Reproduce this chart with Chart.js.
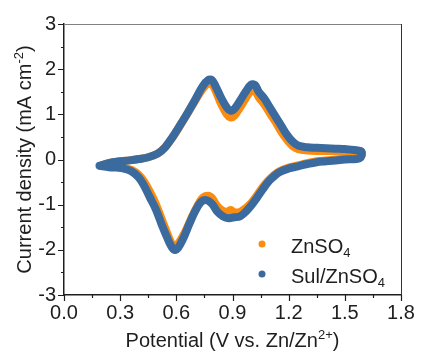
<!DOCTYPE html>
<html>
<head>
<meta charset="utf-8">
<script src="https://cdn.jsdelivr.net/npm/chart.js@4"></script>
<style>
  html, body { margin: 0; padding: 0; background: #fff; }
  canvas { display: block; }
</style>
</head>
<body>
<canvas id="chart" width="422" height="354"></canvas>
<script>
// ZnSO4, one CV loop: anodic sweep up, then cathodic sweep back
var znPotential = [0.20, 0.24, 0.30, 0.35, 0.40, 0.45, 0.50, 0.54, 0.58, 0.62, 0.66, 0.70, 0.74, 0.77, 0.79, 0.81, 0.84, 0.87, 0.89, 0.91, 0.94, 0.97, 1.00, 1.02, 1.04, 1.07, 1.10, 1.13, 1.16, 1.19, 1.22, 1.25, 1.30, 1.35, 1.40, 1.45, 1.50, 1.55, 1.59,
  1.58, 1.50, 1.40, 1.35, 1.30, 1.25, 1.20, 1.15, 1.12, 1.09, 1.06, 1.03, 1.00, 0.97, 0.94, 0.91, 0.89, 0.87, 0.85, 0.82, 0.79, 0.77, 0.74, 0.71, 0.68, 0.65, 0.62, 0.60, 0.585, 0.57, 0.55, 0.52, 0.49, 0.46, 0.43, 0.40, 0.36, 0.32, 0.28, 0.24, 0.20];
var znCurrent = [-0.13, -0.08, -0.04, -0.02, 0.01, 0.05, 0.13, 0.27, 0.49, 0.75, 1.02, 1.30, 1.56, 1.69, 1.68, 1.52, 1.22, 1.00, 0.93, 0.97, 1.15, 1.35, 1.52, 1.52, 1.38, 1.22, 1.02, 0.83, 0.62, 0.44, 0.30, 0.23, 0.20, 0.19, 0.19, 0.19, 0.18, 0.17, 0.14,
  0.05, 0.02, -0.02, -0.04, -0.08, -0.13, -0.18, -0.26, -0.35, -0.47, -0.62, -0.80, -0.96, -1.08, -1.16, -1.17, -1.12, -1.16, -1.14, -1.04, -0.85, -0.80, -0.85, -1.05, -1.30, -1.58, -1.80, -1.90, -1.92, -1.82, -1.62, -1.30, -0.98, -0.72, -0.50, -0.34, -0.23, -0.18, -0.16, -0.15, -0.13];

// Sul/ZnSO4
var sulPotential = [0.19, 0.22, 0.26, 0.30, 0.35, 0.40, 0.45, 0.50, 0.54, 0.58, 0.62, 0.66, 0.70, 0.74, 0.77, 0.79, 0.81, 0.84, 0.87, 0.89, 0.91, 0.94, 0.97, 1.00, 1.02, 1.04, 1.07, 1.10, 1.13, 1.16, 1.19, 1.22, 1.25, 1.30, 1.35, 1.40, 1.45, 1.50, 1.55, 1.59,
  1.58, 1.50, 1.40, 1.35, 1.30, 1.25, 1.20, 1.15, 1.12, 1.09, 1.06, 1.03, 1.00, 0.97, 0.94, 0.91, 0.88, 0.85, 0.82, 0.79, 0.76, 0.73, 0.70, 0.67, 0.64, 0.61, 0.59, 0.57, 0.55, 0.52, 0.49, 0.46, 0.43, 0.40, 0.36, 0.32, 0.28, 0.24, 0.19];
var sulCurrent = [-0.14, -0.10, -0.06, -0.04, -0.02, 0.01, 0.05, 0.13, 0.27, 0.50, 0.76, 1.03, 1.32, 1.62, 1.76, 1.76, 1.62, 1.36, 1.15, 1.08, 1.12, 1.30, 1.50, 1.66, 1.65, 1.50, 1.35, 1.15, 0.95, 0.75, 0.55, 0.40, 0.31, 0.27, 0.26, 0.25, 0.24, 0.23, 0.21, 0.17,
  0.03, 0.00, -0.04, -0.06, -0.10, -0.15, -0.20, -0.28, -0.38, -0.50, -0.67, -0.85, -1.02, -1.16, -1.26, -1.28, -1.30, -1.26, -1.16, -0.98, -0.90, -0.95, -1.15, -1.42, -1.72, -1.95, -2.00, -1.90, -1.72, -1.42, -1.10, -0.85, -0.60, -0.40, -0.26, -0.20, -0.18, -0.17, -0.14];

var xTicks = [0.0, 0.3, 0.6, 0.9, 1.2, 1.5, 1.8];
var yTicks = [-3, -2, -1, 0, 1, 2, 3];

var orange = '#fb8c10';
var blue = '#3b6b9e';
var ink = '#1e1e1e';
var fontFamily = '"Liberation Sans", Arial, sans-serif';

function toPoints(xs, ys) {
  var pts = [];
  for (var i = 0; i < xs.length; i++) pts.push({ x: xs[i], y: ys[i] });
  return pts;
}

// draw text made of pieces, some raised or lowered
function richWidth(ctx, segs) {
  var w = 0;
  segs.forEach(function (s) {
    ctx.font = (s.size || 20) + 'px ' + fontFamily;
    w += ctx.measureText(s.t).width;
  });
  return w;
}
function drawRich(ctx, segs, x, y) {
  var cx = x - richWidth(ctx, segs) / 2;
  segs.forEach(function (s) {
    ctx.font = (s.size || 20) + 'px ' + fontFamily;
    ctx.fillText(s.t, cx, y + (s.dy || 0));
    cx += ctx.measureText(s.t).width;
  });
}
function drawRichLeft(ctx, segs, x, y) {
  var cx = x;
  segs.forEach(function (s) {
    ctx.font = (s.size || 20) + 'px ' + fontFamily;
    ctx.fillText(s.t, cx, y + (s.dy || 0));
    cx += ctx.measureText(s.t).width;
  });
}

var decor = {
  id: 'decor',
  afterDraw: function (chart) {
    var ctx = chart.ctx;
    var a = chart.chartArea;
    var xs = chart.scales.x, ys = chart.scales.y;
    ctx.save();
    // frame: top and right
    ctx.lineWidth = 1;
    ctx.strokeStyle = '#808080';
    ctx.beginPath(); ctx.moveTo(a.left, a.top + 0.5); ctx.lineTo(a.right, a.top + 0.5); ctx.stroke();
    ctx.strokeStyle = '#333';
    ctx.beginPath(); ctx.moveTo(a.right + 0.5, a.top); ctx.lineTo(a.right + 0.5, a.bottom); ctx.stroke();

    // ticks, major and minor, pointing out
    ctx.strokeStyle = ink;
    ctx.lineWidth = 1.2;
    ctx.beginPath();
    for (var v = 0; v <= 1.8001; v += 0.15) {
      var px = Math.round(xs.getPixelForValue(v)) + 0.5;
      var major = Math.abs(v / 0.3 - Math.round(v / 0.3)) < 0.01;
      ctx.moveTo(px, a.bottom); ctx.lineTo(px, a.bottom + (major ? 6 : 3));
    }
    for (var w = -3; w <= 3.001; w += 0.5) {
      var py = Math.round(ys.getPixelForValue(w)) + 0.5;
      var maj = Math.abs(w - Math.round(w)) < 0.01;
      ctx.moveTo(a.left, py); ctx.lineTo(a.left - (maj ? 6 : 3), py);
    }
    ctx.stroke();

    // axis titles
    ctx.fillStyle = ink;
    ctx.textBaseline = 'alphabetic';
    drawRich(ctx, [
      { t: 'Potential (V vs. Zn/Zn' },
      { t: '2+', size: 13, dy: -8 },
      { t: ')' }
    ], (a.left + a.right) / 2, 347);

    ctx.save();
    ctx.translate(31, (a.top + a.bottom) / 2);
    ctx.rotate(-Math.PI / 2);
    drawRich(ctx, [
      { t: 'Current density (mA cm' },
      { t: '-2', size: 13, dy: -8 },
      { t: ')' }
    ], 0, 0);
    ctx.restore();

    // legend
    var items = [
      { color: orange, segs: [{ t: 'ZnSO' }, { t: '4', size: 13, dy: 4 }], y: 244 },
      { color: blue, segs: [{ t: 'Sul/ZnSO' }, { t: '4', size: 13, dy: 4 }], y: 274 }
    ];
    items.forEach(function (it) {
      ctx.fillStyle = it.color;
      ctx.beginPath(); ctx.arc(262, it.y, 3.5, 0, Math.PI * 2); ctx.fill();
      ctx.fillStyle = ink;
      drawRichLeft(ctx, it.segs, 291, it.y + 9);
    });
    ctx.restore();
  }
};

var ctx = document.getElementById('chart').getContext('2d');
new Chart(ctx, {
  type: 'scatter',
  data: {
    datasets: [{
      label: 'ZnSO4',
      data: toPoints(znPotential, znCurrent),
      borderColor: orange,
      backgroundColor: orange,
      order: 1
    }, {
      label: 'Sul/ZnSO4',
      data: toPoints(sulPotential, sulCurrent),
      borderColor: blue,
      backgroundColor: blue,
      order: 0
    }]
  },
  options: {
    responsive: false,
    animation: false,
    devicePixelRatio: 1,
    showLine: true,
    layout: { padding: { top: 24, right: 21, left: 0, bottom: 0 } },
    elements: {
      point: { radius: 0, hoverRadius: 0 },
      line: { borderWidth: 8, tension: 0.35, borderCapStyle: 'round', borderJoinStyle: 'round' }
    },
    plugins: {
      legend: { display: false },
      tooltip: { enabled: false }
    },
    scales: {
      x: {
        type: 'linear',
        min: 0, max: 1.8,
        afterBuildTicks: function (s) { s.ticks = xTicks.map(function (v) { return { value: v }; }); },
        afterFit: function (s) { s.height = 59; },
        grid: { display: false, drawTicks: false },
        border: { display: true, color: ink, width: 1.5 },
        ticks: {
          padding: 6,
          color: ink,
          font: { family: fontFamily, size: 20 },
          maxRotation: 0,
          callback: function (v) { return v.toFixed(1); }
        }
      },
      y: {
        type: 'linear',
        min: -3, max: 3,
        afterBuildTicks: function (s) { s.ticks = yTicks.map(function (v) { return { value: v }; }); },
        afterFit: function (s) { s.width = 64; },
        grid: { display: false, drawTicks: false },
        border: { display: true, color: ink, width: 1.5 },
        ticks: {
          padding: 8,
          color: ink,
          font: { family: fontFamily, size: 20 },
          callback: function (v) { return String(v); }
        }
      }
    }
  },
  plugins: [decor]
});
</script>
</body>
</html>
